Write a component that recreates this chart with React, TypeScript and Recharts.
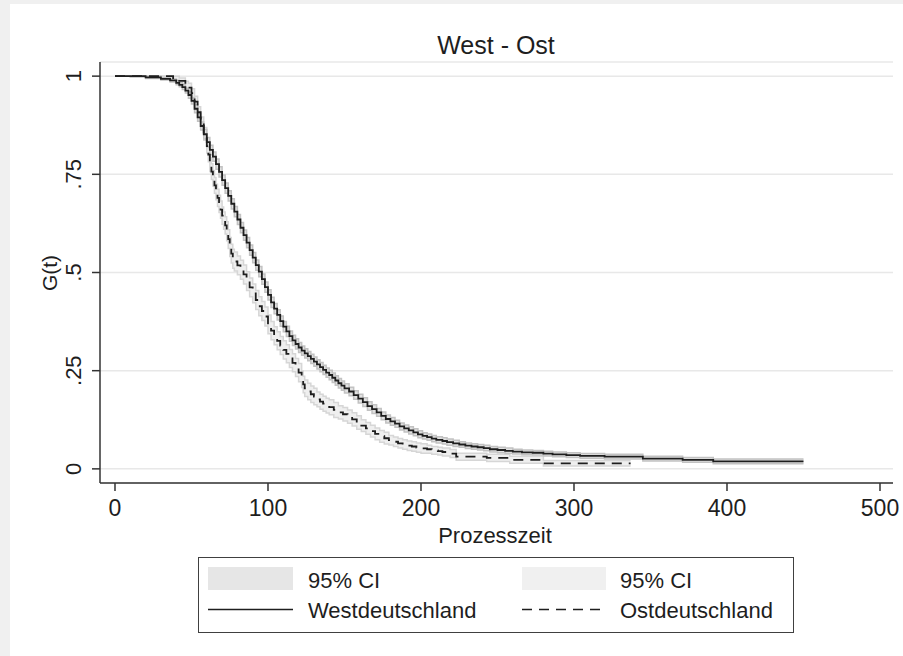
import { Area, CartesianGrid, ComposedChart, Line, XAxis, YAxis } from 'recharts'

// Kaplan-Meier estimates and 95% bands
const westTime = [0, 10, 20, 30, 36, 40, 42, 44, 46, 48, 50, 52, 54, 56, 58, 60, 62, 64, 66, 68, 70, 72, 74, 76, 78, 80, 82, 84, 86, 88, 90, 92, 94, 96, 98, 100, 102, 104, 106, 108, 110, 112, 114, 116, 118, 120, 122, 124, 126, 128, 130, 132, 134, 136, 138, 140, 142, 144, 146, 148, 150, 153, 156, 159, 162, 165, 168, 171, 174, 177, 180, 183, 186, 189, 192, 195, 198, 201, 204, 207, 210, 214, 217, 221, 225, 229, 233, 237, 241, 245, 250, 255, 260, 266, 273, 280, 286, 295, 304, 320, 345, 371, 391, 450]
const westSurv = [1, 1, 0.997, 0.993, 0.989, 0.983, 0.978, 0.972, 0.963, 0.952, 0.937, 0.917, 0.895, 0.873, 0.852, 0.832, 0.812, 0.795, 0.776, 0.756, 0.735, 0.715, 0.695, 0.675, 0.655, 0.635, 0.614, 0.595, 0.576, 0.557, 0.538, 0.519, 0.502, 0.483, 0.463, 0.443, 0.424, 0.408, 0.392, 0.376, 0.362, 0.35, 0.338, 0.327, 0.318, 0.309, 0.301, 0.294, 0.287, 0.28, 0.273, 0.266, 0.259, 0.252, 0.245, 0.239, 0.232, 0.225, 0.218, 0.212, 0.205, 0.197, 0.188, 0.179, 0.17, 0.16, 0.152, 0.144, 0.135, 0.127, 0.121, 0.115, 0.108, 0.103, 0.098, 0.093, 0.088, 0.084, 0.081, 0.077, 0.074, 0.071, 0.068, 0.065, 0.062, 0.059, 0.057, 0.055, 0.053, 0.05, 0.048, 0.046, 0.044, 0.042, 0.041, 0.039, 0.037, 0.035, 0.033, 0.031, 0.026, 0.023, 0.019, 0.019]
const westLow = [1, 0.998, 0.994, 0.99, 0.985, 0.978, 0.973, 0.966, 0.957, 0.944, 0.929, 0.907, 0.885, 0.863, 0.84, 0.82, 0.8, 0.783, 0.763, 0.743, 0.722, 0.702, 0.682, 0.662, 0.642, 0.622, 0.601, 0.582, 0.563, 0.544, 0.525, 0.506, 0.489, 0.47, 0.45, 0.43, 0.411, 0.395, 0.379, 0.363, 0.349, 0.337, 0.325, 0.314, 0.305, 0.296, 0.289, 0.282, 0.275, 0.268, 0.261, 0.254, 0.247, 0.24, 0.233, 0.227, 0.22, 0.213, 0.206, 0.2, 0.193, 0.186, 0.177, 0.168, 0.159, 0.149, 0.141, 0.134, 0.125, 0.117, 0.111, 0.106, 0.099, 0.094, 0.089, 0.084, 0.079, 0.076, 0.073, 0.069, 0.066, 0.063, 0.06, 0.057, 0.055, 0.052, 0.05, 0.048, 0.046, 0.043, 0.041, 0.039, 0.038, 0.036, 0.035, 0.033, 0.031, 0.029, 0.027, 0.025, 0.02, 0.017, 0.013, 0.013]
const westHigh = [1, 1, 1, 0.996, 0.993, 0.988, 0.983, 0.978, 0.969, 0.96, 0.945, 0.927, 0.905, 0.883, 0.864, 0.844, 0.824, 0.807, 0.789, 0.769, 0.748, 0.728, 0.708, 0.688, 0.668, 0.648, 0.627, 0.608, 0.589, 0.57, 0.551, 0.532, 0.515, 0.496, 0.476, 0.456, 0.437, 0.421, 0.405, 0.389, 0.375, 0.363, 0.351, 0.34, 0.331, 0.322, 0.313, 0.306, 0.299, 0.292, 0.285, 0.278, 0.271, 0.264, 0.257, 0.251, 0.244, 0.237, 0.23, 0.224, 0.217, 0.208, 0.199, 0.19, 0.181, 0.171, 0.163, 0.154, 0.145, 0.137, 0.131, 0.124, 0.117, 0.112, 0.107, 0.102, 0.097, 0.092, 0.089, 0.085, 0.082, 0.079, 0.076, 0.073, 0.069, 0.066, 0.064, 0.062, 0.06, 0.057, 0.055, 0.053, 0.05, 0.048, 0.047, 0.045, 0.043, 0.041, 0.039, 0.037, 0.032, 0.029, 0.025, 0.025]

const ostTime = [0, 34, 38, 42, 46, 48, 50, 52, 54, 56, 58, 60, 61, 62, 63, 64, 65, 66, 67, 68, 69, 70, 71, 72, 73, 74, 75, 76, 77, 78, 80, 82, 84, 86, 88, 90, 92, 94, 96, 98, 100, 102, 104, 106, 108, 110, 112, 114, 116, 118, 120, 122, 123, 124, 126, 128, 130, 132, 134, 136, 138, 140, 143, 146, 149, 152, 155, 158, 161, 164, 167, 170, 173, 176, 179, 182, 185, 188, 191, 194, 197, 200, 204, 207, 211, 214, 219, 223, 243, 258, 280, 337]
const ostSurv = [1, 1, 0.995, 0.988, 0.978, 0.971, 0.957, 0.935, 0.908, 0.88, 0.853, 0.822, 0.8, 0.775, 0.757, 0.74, 0.722, 0.705, 0.69, 0.675, 0.66, 0.645, 0.632, 0.62, 0.605, 0.585, 0.565, 0.548, 0.535, 0.528, 0.518, 0.507, 0.495, 0.478, 0.462, 0.447, 0.43, 0.414, 0.402, 0.388, 0.368, 0.352, 0.339, 0.326, 0.314, 0.303, 0.293, 0.281, 0.27, 0.258, 0.245, 0.228, 0.215, 0.205, 0.197, 0.19, 0.184, 0.177, 0.171, 0.166, 0.161, 0.157, 0.15, 0.144, 0.139, 0.133, 0.126, 0.118, 0.11, 0.103, 0.096, 0.089, 0.083, 0.078, 0.073, 0.069, 0.065, 0.062, 0.059, 0.057, 0.054, 0.052, 0.05, 0.047, 0.045, 0.043, 0.039, 0.031, 0.028, 0.023, 0.014, 0.014]
const ostLow = [1, 0.998, 0.99, 0.981, 0.969, 0.96, 0.946, 0.921, 0.894, 0.864, 0.837, 0.804, 0.782, 0.757, 0.737, 0.72, 0.702, 0.685, 0.668, 0.653, 0.638, 0.623, 0.61, 0.598, 0.581, 0.561, 0.541, 0.524, 0.511, 0.504, 0.494, 0.483, 0.471, 0.454, 0.438, 0.423, 0.406, 0.39, 0.378, 0.364, 0.344, 0.329, 0.316, 0.303, 0.291, 0.28, 0.27, 0.258, 0.247, 0.235, 0.222, 0.207, 0.194, 0.184, 0.176, 0.169, 0.163, 0.158, 0.152, 0.147, 0.142, 0.138, 0.131, 0.127, 0.122, 0.116, 0.109, 0.101, 0.095, 0.088, 0.081, 0.074, 0.068, 0.063, 0.061, 0.057, 0.053, 0.05, 0.047, 0.045, 0.042, 0.04, 0.04, 0.037, 0.035, 0.033, 0.029, 0.022, 0.019, 0.014, 0.007, 0.007]
const ostHigh = [1, 1, 1, 0.995, 0.987, 0.982, 0.968, 0.949, 0.922, 0.896, 0.869, 0.84, 0.818, 0.793, 0.777, 0.76, 0.742, 0.725, 0.712, 0.697, 0.682, 0.667, 0.654, 0.642, 0.629, 0.609, 0.589, 0.572, 0.559, 0.552, 0.542, 0.531, 0.519, 0.502, 0.486, 0.471, 0.454, 0.438, 0.426, 0.412, 0.392, 0.375, 0.362, 0.349, 0.337, 0.326, 0.316, 0.304, 0.293, 0.281, 0.268, 0.249, 0.236, 0.226, 0.218, 0.211, 0.205, 0.196, 0.19, 0.185, 0.18, 0.176, 0.169, 0.161, 0.156, 0.15, 0.143, 0.135, 0.125, 0.118, 0.111, 0.104, 0.098, 0.093, 0.085, 0.081, 0.077, 0.074, 0.071, 0.069, 0.066, 0.064, 0.06, 0.057, 0.055, 0.053, 0.049, 0.04, 0.037, 0.032, 0.021, 0.021]

const xTicks = [0, 100, 200, 300, 400, 500]
const yTicks = [0, 0.25, 0.5, 0.75, 1]
const yTickLabels = ['0', '.25', '.5', '.75', '1']

const westData = westTime.map((t, i) => ({ t, s: westSurv[i], band: [westLow[i], westHigh[i]] }))
const ostData = ostTime.map((t, i) => ({ t, s: ostSurv[i], band: [ostLow[i], ostHigh[i]] }))

const font = '"Liberation Sans", Arial, sans-serif'
const ink = '#1e1e1e'

function YTick({ x, y, payload }: any) {
  const i = yTicks.indexOf(payload.value)
  return (
    <text x={x} y={y} transform={`rotate(-90 ${x} ${y})`} textAnchor="middle" fontSize={22} fontFamily={font} fill={ink}>
      {yTickLabels[i]}
    </text>
  )
}

function Overlay() {
  return (
    <svg width={903} height={656} style={{ position: 'absolute', left: 0, top: 0, pointerEvents: 'none' }} fontFamily={font} fill={ink}>
      <text x={496} y={54} textAnchor="middle" fontSize={25}>West - Ost</text>
      <text x={495} y={543} textAnchor="middle" fontSize={22}>Prozesszeit</text>
      <text x={57} y={273} transform="rotate(-90 57 273)" textAnchor="middle" fontSize={21}>G(t)</text>

      <rect x={198.5} y={557.5} width={595} height={75} fill="#fff" stroke="#404040" strokeWidth={1} />
      <rect x={208} y={567} width={85} height={23} fill="#e6e6e6" />
      <rect x={522} y={567} width={84} height={23} fill="#f0f0f0" />
      <text x={308} y={588} fontSize={22}>95% CI</text>
      <text x={620} y={588} fontSize={22}>95% CI</text>
      <line x1={208} x2={293} y1={609.5} y2={609.5} stroke={ink} strokeWidth={1.5} />
      <line x1={522} x2={606} y1={609.5} y2={609.5} stroke={ink} strokeWidth={1.5} strokeDasharray="10 7" />
      <text x={308} y={618} fontSize={22}>Westdeutschland</text>
      <text x={620} y={618} fontSize={22}>Ostdeutschland</text>
    </svg>
  )
}

export default function App() {
  return (
    <div style={{ position: 'absolute', left: 0, top: 0, width: 903, height: 656, background: '#f0f0f0', overflow: 'hidden' }}>
      <div style={{ position: 'absolute', left: 10, top: 4, width: 893, height: 652, background: '#fff' }} />
      <div style={{ position: 'absolute', left: 0, top: 0 }}>
        <ComposedChart width={903} height={656} margin={{ top: 62, right: 10, bottom: 143, left: 0 }}>
          <CartesianGrid vertical={false} stroke="#e8e8e8" strokeWidth={1.5} />
          <XAxis
            dataKey="t"
            type="number"
            domain={[-9.8, 508.5]}
            ticks={xTicks}
            allowDataOverflow
            height={30}
            tickSize={8}
            tickMargin={9}
            stroke="#333"
            strokeWidth={1.5}
            tick={{ fontSize: 23, fontFamily: font, fill: ink }}
          />
          <YAxis
            type="number"
            domain={[-0.036, 1.036]}
            ticks={yTicks}
            allowDataOverflow
            width={100}
            tickSize={8}
            tickMargin={11}
            stroke="#333"
            strokeWidth={1.5}
            tick={<YTick />}
          />
          <Area data={ostData} dataKey="band" type="stepAfter" fill="#efefef" fillOpacity={1} stroke="#d6d6d6" strokeWidth={1.5} isAnimationActive={false} dot={false} activeDot={false} />
          <Area data={westData} dataKey="band" type="stepAfter" fill="#e2e2e2" fillOpacity={1} stroke="#c2c2c2" strokeWidth={1.5} isAnimationActive={false} dot={false} activeDot={false} />
          <Line data={ostData} dataKey="s" type="stepAfter" stroke={ink} strokeWidth={1.8} strokeDasharray="10 7" dot={false} activeDot={false} isAnimationActive={false} />
          <Line data={westData} dataKey="s" type="stepAfter" stroke={ink} strokeWidth={1.8} dot={false} activeDot={false} isAnimationActive={false} />
        </ComposedChart>
      </div>
      <Overlay />
    </div>
  )
}
